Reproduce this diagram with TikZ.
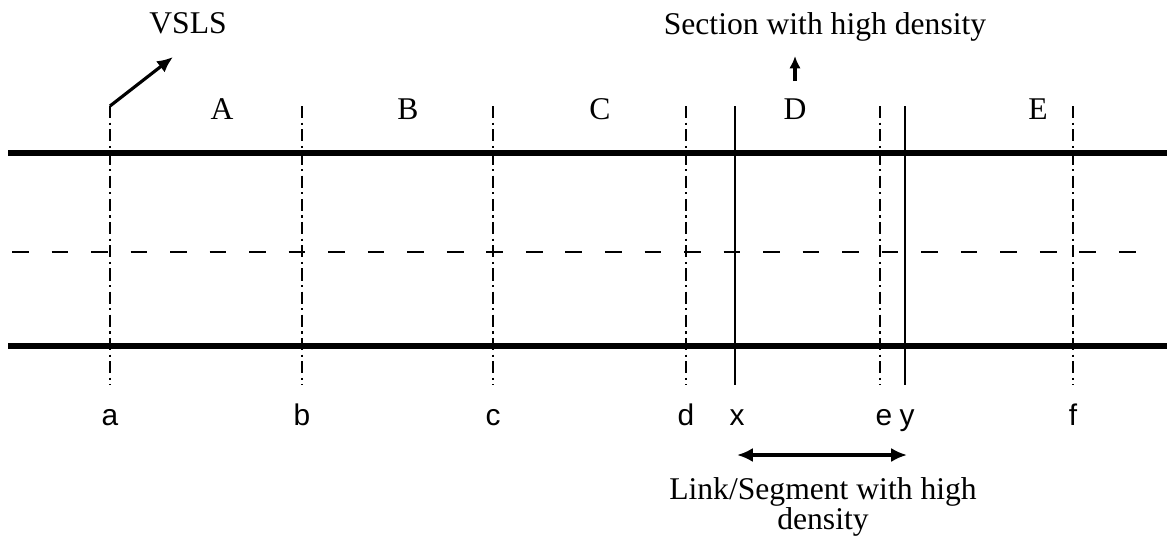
\documentclass[tikz,border=0pt]{standalone}
\usepackage{fontspec}
\setmainfont{Liberation Serif}
\newfontfamily\sansfont{Liberation Sans}
\usetikzlibrary{arrows.meta}
\begin{document}
\begin{tikzpicture}[
		x=0.02cm, y=-0.02cm,
		road/.style = {line width=3.2pt},
		centre/.style = {line width=1.1pt, dash pattern=on 9.5pt off 13pt},
		border/.style = {line width=1.1pt, dash pattern=on 7pt off 2.5pt on 1.2pt off 2.5pt},
		bound/.style = {line width=1.1pt},
		pointer/.style = {line width=1.8pt, -{Latex[length=9pt,width=8pt]}},
		serif/.style = {font=\fontsize{18}{16}\selectfont, anchor=base},
		letter/.style = {font=\sansfont\fontsize{17}{18}\selectfont, anchor=base},
	]
	\path[use as bounding box] (0,0) rectangle (1167,542);
	% road edges and centre line
	\draw[road] (8,153) -- (1167,153);
	\draw[road] (8,346) -- (1167,346);
	\draw[centre] (12,252) -- (1152,252);
	% section borders
	\foreach \n/\px/\lx in {a/110/110, b/302/302, c/493/493, d/686/686, e/880/884, f/1073/1073} {
		\draw[border] (\px,106) coordinate (top-\n) -- (\px,385);
		\node[letter] (lab-\n) at (\lx,425) {\n};
	}
	% link bounds
	\foreach \n/\px in {x/735, y/905} {
		\draw[bound] (\px,106) -- (\px,385);
		\node[letter] (lab-\n) at (\px+2,425) {\n};
	}
	\foreach \n/\px in {A/222, B/408, C/600, D/795, E/1038}
		\node[serif] (sec-\n) at (\px,119) {\n};
	\node[serif] (vsls) at (188,33) {VSLS};
	\node[serif] (sect) at (825,34) {Section with high density};
	\node[serif, anchor=center, align=center] (link) at (823,507) {Link/Segment with high\\density};
	% pointers
	\coordinate (vsls-tip) at (173,57);
	\draw[pointer] (top-a) -- (vsls-tip);
	\draw[line width=2pt, -{Latex[length=7pt,width=6.5pt]}] (sec-D.north |- 0,81) -- (sec-D.north |- 0,56);
	\draw[pointer, {Latex[length=9pt,width=8pt]}-{Latex[length=9pt,width=8pt]}] (lab-x.south |- 0,455) -- (lab-y.south |- 0,455);
\end{tikzpicture}
\end{document}
